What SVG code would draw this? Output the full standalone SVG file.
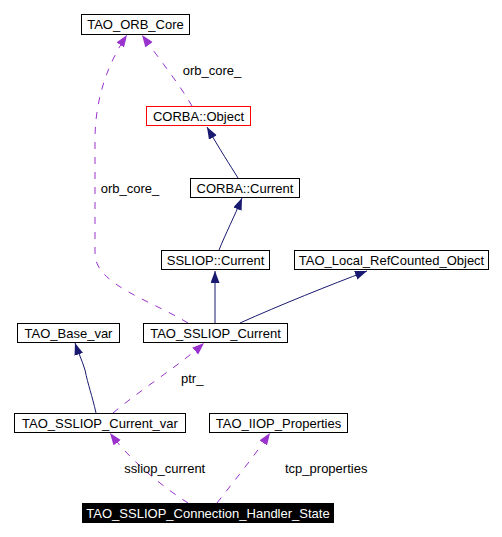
<svg xmlns="http://www.w3.org/2000/svg" width="502" height="537" viewBox="0 0 502 537">
<style>
text{font-family:"Liberation Sans",Arial,sans-serif;font-size:13px;fill:#000}
.n rect{fill:#fff;stroke:#000;stroke-width:1}
.n text{text-anchor:middle}
.inh{fill:none;stroke:#191970;stroke-width:1}
.use{fill:none;stroke:#9a32cd;stroke-width:1;stroke-dasharray:7,8}
</style>
<defs>
<marker id="ab" markerUnits="userSpaceOnUse" markerWidth="14" markerHeight="10" refX="12" refY="4.5" orient="auto"><path d="M0,0 L12,4.5 L0,9 z" fill="#191970"/></marker>
<marker id="ap" markerUnits="userSpaceOnUse" markerWidth="14" markerHeight="10" refX="12" refY="4.5" orient="auto"><path d="M0,0 L12,4.5 L0,9 z" fill="#9a32cd"/></marker>
</defs>
<rect width="502" height="537" fill="#fff"/>
<g id="connectors">
<path class="use" d="M192,106 C180,85 160,60 142,35" marker-end="url(#ap)"/>
<path class="use" d="M188,323 C150,300 97,285 95,255 L95,140 C95,95 110,60 127,35" marker-end="url(#ap)"/>
<path class="inh" d="M238,178 C230,165 220,150 207,127" marker-end="url(#ab)"/>
<path class="inh" d="M219,250 C225,235 235,215 242,198" marker-end="url(#ab)"/>
<path class="inh" d="M215,323 L215,271" marker-end="url(#ab)"/>
<path class="inh" d="M240,323 C280,305 330,285 367,271" marker-end="url(#ab)"/>
<path class="inh" d="M96,413 C92,395 88,385 85,370 C82,360 78,352 75,343" marker-end="url(#ab)"/>
<path class="use" d="M113,413 C140,390 180,365 204,343" marker-end="url(#ap)"/>
<path class="use" d="M188,503 C160,485 130,460 110,433" marker-end="url(#ap)"/>
<path class="use" d="M217,503 C235,480 255,455 270,433" marker-end="url(#ap)"/>
<text x="182.7" y="75">orb_core_</text>
<text x="100.7" y="193">orb_core_</text>
<text x="181" y="383">ptr_</text>
<text x="124.3" y="473">ssliop_current</text>
<text x="285" y="473">tcp_properties</text>
</g>
<g id="TAO_ORB_Core" class="n"><rect x="81.5" y="14.5" width="108" height="20"/><text x="135.5" y="29">TAO_ORB_Core</text></g>
<g id="CORBA_Object" class="n"><rect x="146.5" y="106.5" width="104" height="19" style="stroke:#ff0000"/><text x="198.5" y="120.5">CORBA::Object</text></g>
<g id="CORBA_Current" class="n"><rect x="190.5" y="178.5" width="109" height="19"/><text x="245" y="192.5">CORBA::Current</text></g>
<g id="SSLIOP_Current" class="n"><rect x="161.5" y="250.5" width="108" height="19"/><text x="215.5" y="264.5">SSLIOP::Current</text></g>
<g id="TAO_Local_RefCounted_Object" class="n"><rect x="294.5" y="250.5" width="194" height="19"/><text x="391.5" y="264.5">TAO_Local_RefCounted_Object</text></g>
<g id="TAO_Base_var" class="n"><rect x="17.5" y="323.5" width="102" height="19"/><text x="68.5" y="337.5">TAO_Base_var</text></g>
<g id="TAO_SSLIOP_Current" class="n"><rect x="143.5" y="323.5" width="144" height="19"/><text x="215.5" y="337.5">TAO_SSLIOP_Current</text></g>
<g id="TAO_SSLIOP_Current_var" class="n"><rect x="14.5" y="413.5" width="171" height="19"/><text x="100" y="427.5">TAO_SSLIOP_Current_var</text></g>
<g id="TAO_IIOP_Properties" class="n"><rect x="209.5" y="413.5" width="138" height="19"/><text x="278.5" y="427.5">TAO_IIOP_Properties</text></g>
<g id="TAO_SSLIOP_Connection_Handler_State" class="n"><rect x="82.5" y="503.5" width="251" height="19" style="fill:#000"/><text x="208" y="517.5" style="fill:#fff">TAO_SSLIOP_Connection_Handler_State</text></g>
</svg>
